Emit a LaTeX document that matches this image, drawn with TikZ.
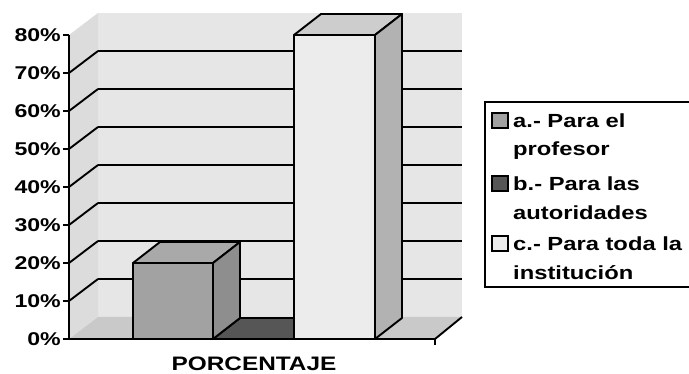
\documentclass[tikz,border=0pt]{standalone}
\usepackage{fontspec}
\setmainfont{Liberation Sans}[FakeStretch=1.25]
\definecolor{wallback}{HTML}{E6E6E6}
\definecolor{wallside}{HTML}{DCDCDC}
\definecolor{floorc}{HTML}{C9C9C9}
\definecolor{afront}{HTML}{A2A2A2}
\definecolor{aside}{HTML}{8E8E8E}
\definecolor{atop}{HTML}{A9A9A9}
\definecolor{bfill}{HTML}{565656}
\definecolor{cfront}{HTML}{ECECEC}
\definecolor{cside}{HTML}{B2B2B2}
\definecolor{ctop}{HTML}{CDCDCD}
\begin{document}
\begin{tikzpicture}[x=1pt,y=-1pt,
  edge/.style={line width=1.9pt,line join=round},
  grid/.style={line width=1.9pt},
  ticklab/.style={anchor=east,inner sep=0pt,font=\bfseries\fontsize{18.5}{18.5}\selectfont},
  legtext/.style={anchor=base west,inner sep=0pt,font=\bfseries\fontsize{19}{19}\selectfont},
  legmark/.style={draw,line width=1.3pt}]
\useasboundingbox (0,0) rectangle (689,374);
% walls
\fill[wallback] (98,13) rectangle (462,317);
\fill[wallside] (69,35) -- (98,13) -- (98,317) -- (69,339) -- cycle;
% gridlines and left diagonals
\foreach \k in {1,...,7}{
  \draw[grid] (98,{317-38*\k}) -- (462,{317-38*\k});
  \draw[grid] (69,{339-38*\k}) -- (98,{317-38*\k});
}
% floor
\fill[floorc] (69,339) -- (435,339) -- (462,317) -- (98,317) -- cycle;
\draw[edge] (435,339) -- (462,317);
\draw[edge] (435,339) -- (435,345);
% bar b (0%)
\filldraw[edge,fill=bfill] (213,339) -- (240,318) -- (321,318) -- (294,339) -- cycle;
% bar a (20%)
\filldraw[edge,fill=afront] (133,263) rectangle (213,339);
\filldraw[edge,fill=atop] (133,263) -- (160,242) -- (240,242) -- (213,263) -- cycle;
\filldraw[edge,fill=aside] (213,263) -- (240,242) -- (240,318) -- (213,339) -- cycle;
% bar c (80%)
\filldraw[edge,fill=cfront] (294,35) rectangle (375,339);
\filldraw[edge,fill=ctop] (294,35) -- (321,14) -- (402,14) -- (375,35) -- cycle;
\filldraw[edge,fill=cside] (375,35) -- (402,14) -- (402,318) -- (375,339) -- cycle;
% axes
\draw[edge] (69,35) -- (69,339) -- (435,339);
\foreach \k in {0,...,8}{
  \draw[edge] (63,{339-38*\k}) -- (69,{339-38*\k});
  \pgfmathtruncatemacro{\pc}{10*\k}
  \node[ticklab] (t\k) at (61,{339-38*\k}) {\pc\%};
}
\node[anchor=base,inner sep=0pt,font=\bfseries\fontsize{19.5}{19.5}\selectfont] (xlab) at (254,371) {PORCENTAJE};
% legend (right side runs off the picture)
\draw[line width=1.5pt] (689,102) -- (485,102) -- (485,287) -- (689,287);
\draw[legmark,fill=afront] (492,113) rectangle (508,128);
\draw[legmark,fill=bfill] (492,176) rectangle (508,191);
\draw[legmark,fill=cfront] (492,236) rectangle (508,251);
\node[legtext] (la1) at (513,128) {a.- Para el};
\node[legtext] (la2) at (513,156) {profesor};
\node[legtext] (lb1) at (513,191) {b.- Para las};
\node[legtext] (lb2) at (513,220) {autoridades};
\node[legtext] (lc1) at (513,251) {c.- Para toda la};
\node[legtext] (lc2) at (513,280) {institución};
\end{tikzpicture}
\end{document}
